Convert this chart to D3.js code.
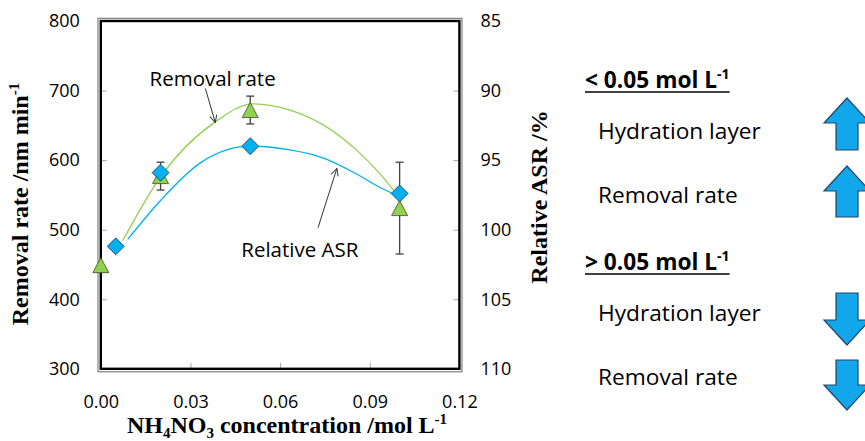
<!DOCTYPE html>
<html>
<head>
<meta charset="utf-8">
<script src="https://cdn.jsdelivr.net/npm/d3@7"></script>
<style>
  body { margin: 0; background: #fff; }
  svg { display: block; }
  .axis text { font-family: "Open Sans", sans-serif; font-size: 18px; fill: #000; }
  .axis line { stroke: #a6a6a6; stroke-width: 1; }
  .axis .domain { display: none; }
  .note { font-family: "Open Sans", sans-serif; font-size: 20.5px; fill: #000; }
  .title { font-family: "Liberation Serif", "Times New Roman", serif; font-weight: bold; font-size: 24px; fill: #000; }
  .side { font-family: "Open Sans", sans-serif; font-size: 22.7px; fill: #000; }
</style>
</head>
<body>
<svg id="chart" width="865" height="441"></svg>
<script>
//======
// Data
//======

// removal rate (triangles, left axis)
var rateConc = [0, 0.02, 0.05, 0.10];
var rateVals = [449, 577, 672, 531];
var rateErr  = [0, 20, 20, 66];

// relative ASR (diamonds, right axis)
var asrConc = [0.005, 0.02, 0.05, 0.10];
var asrVals = [101.2, 95.9, 94.0, 97.4];

// trend curves as drawn on the figure
var rateCurveX = [0.0073, 0.02, 0.0383, 0.051, 0.0633, 0.0743, 0.0857, 0.0933, 0.0987];
var rateCurveY = [484, 576, 655, 681, 672, 651, 614, 581, 553];
var asrCurveX  = [0.009, 0.02, 0.0333, 0.05, 0.0633, 0.0743, 0.0856, 0.0933, 0.0987];
var asrCurveY  = [100.7, 97.9, 95.2, 94.0, 94.27, 94.84, 96.0, 96.95, 97.5];

var xTicks     = [0, 0.03, 0.06, 0.09, 0.12];
var leftTicks  = [300, 400, 500, 600, 700, 800];
var rightTicks = [85, 90, 95, 100, 105, 110];

var sideHeads  = ["< 0.05 mol L", "> 0.05 mol L"];
var sideItems  = ["Hydration layer", "Removal rate"];
var sideTrend  = ["up", "down"];

//=======
// Chart
//=======

var svg = d3.select("#chart");
var green = "#92d050", blue = "#00b0f0";

var x = d3.scaleLinear().domain([0, 0.12]).range([100.8, 459.4]);
var yL = d3.scaleLinear().domain([300, 800]).range([368.8, 21]);
var yR = d3.scaleLinear().domain([110, 85]).range([368.8, 21]);

var defs = svg.append("defs");
defs.append("marker")
  .attr("id", "open")
  .attr("viewBox", "0 0 10 10")
  .attr("refX", 9).attr("refY", 5)
  .attr("markerWidth", 9).attr("markerHeight", 9)
  .attr("markerUnits", "userSpaceOnUse")
  .attr("orient", "auto")
  .append("path")
  .attr("d", "M1,1 L9,5 L1,9")
  .attr("fill", "none")
  .attr("stroke", "#333")
  .attr("stroke-width", 1.1);

// axes, ticks inside the frame
svg.append("g").attr("class", "axis")
  .attr("transform", "translate(" + x(0) + ",0)")
  .call(d3.axisLeft(yL).tickValues(leftTicks).tickSize(-6).tickPadding(21));

svg.append("g").attr("class", "axis")
  .attr("transform", "translate(" + x(0.12) + ",0)")
  .call(d3.axisRight(yR).tickValues(rightTicks).tickSize(-6).tickPadding(21));

svg.append("g").attr("class", "axis")
  .attr("transform", "translate(0," + yL(300) + ")")
  .call(d3.axisBottom(x).tickValues(xTicks).tickSize(-6).tickPadding(26).tickFormat(d3.format(".2f")));

// trend curves
var rateLine = d3.line().x(function(d) { return x(d[0]); }).y(function(d) { return yL(d[1]); })
  .curve(d3.curveMonotoneX);
var asrLine = d3.line().x(function(d) { return x(d[0]); }).y(function(d) { return yR(d[1]); })
  .curve(d3.curveMonotoneX);

svg.append("path")
  .attr("d", rateLine(d3.zip(rateCurveX, rateCurveY)))
  .attr("fill", "none").attr("stroke", green).attr("stroke-width", 1.3);
svg.append("path")
  .attr("d", asrLine(d3.zip(asrCurveX, asrCurveY)))
  .attr("fill", "none").attr("stroke", blue).attr("stroke-width", 1.3);

// double frame
svg.append("rect")
  .attr("x", 98).attr("y", 18.3).attr("width", 364).attr("height", 353.5)
  .attr("fill", "none").attr("stroke", "#666").attr("stroke-width", 1);
svg.append("rect")
  .attr("x", x(0)).attr("y", yL(800)).attr("width", x(0.12) - x(0)).attr("height", yL(300) - yL(800))
  .attr("fill", "none").attr("stroke", "#000").attr("stroke-width", 2.4);

// error bars
var rateData = d3.range(rateConc.length).map(function(i) {
  return { c: rateConc[i], v: rateVals[i], e: rateErr[i] };
});
var eb = svg.append("g").attr("stroke", "#404040").attr("stroke-width", 1.3);
rateData.filter(function(d) { return d.e > 0; }).forEach(function(d) {
  var cx = x(d.c);
  eb.append("line").attr("x1", cx).attr("x2", cx).attr("y1", yL(d.v - d.e)).attr("y2", yL(d.v + d.e));
  eb.append("line").attr("x1", cx - 4).attr("x2", cx + 4).attr("y1", yL(d.v - d.e)).attr("y2", yL(d.v - d.e));
  eb.append("line").attr("x1", cx - 4).attr("x2", cx + 4).attr("y1", yL(d.v + d.e)).attr("y2", yL(d.v + d.e));
});

// markers
svg.append("g").selectAll("path")
  .data(rateData)
  .enter().append("path")
  .attr("transform", function(d) { return "translate(" + x(d.c) + "," + yL(d.v) + ")"; })
  .attr("d", "M0,-7.5 L8,7.5 L-8,7.5 Z")
  .attr("fill", green).attr("stroke", "#3b4a2a").attr("stroke-width", 0.8);

svg.append("g").selectAll("path")
  .data(d3.zip(asrConc, asrVals))
  .enter().append("path")
  .attr("transform", function(d) { return "translate(" + x(d[0]) + "," + yR(d[1]) + ")"; })
  .attr("d", "M0,-8.5 L8.5,0 L0,8.5 L-8.5,0 Z")
  .attr("fill", blue).attr("stroke", "#1e3a52").attr("stroke-width", 0.8);

// call-outs
svg.append("text").attr("class", "note")
  .attr("x", x(0.0163)).attr("y", yL(706)).text("Removal rate");
svg.append("line")
  .attr("x1", x(0.035)).attr("y1", yL(703)).attr("x2", x(0.0383)).attr("y2", yL(654))
  .attr("stroke", "#333").attr("stroke-width", 1).attr("marker-end", "url(#open)");

svg.append("text").attr("class", "note")
  .attr("x", x(0.047)).attr("y", yR(101.95)).text("Relative ASR");
svg.append("line")
  .attr("x1", x(0.0727)).attr("y1", yR(99.85)).attr("x2", x(0.079)).attr("y2", yR(95.6))
  .attr("stroke", "#333").attr("stroke-width", 1).attr("marker-end", "url(#open)");

// axis titles
var lt = svg.append("text").attr("class", "title")
  .attr("transform", "translate(28,204) rotate(-90)")
  .attr("text-anchor", "middle");
lt.append("tspan").text("Removal rate /nm min");
lt.append("tspan").attr("dy", -9).attr("font-size", 15).text("-1");

var rt = svg.append("text").attr("class", "title")
  .attr("transform", "translate(547,197) rotate(-90)")
  .attr("text-anchor", "middle")
  .text("Relative ASR /%");

var xt = svg.append("text").attr("class", "title")
  .attr("x", 287).attr("y", 433)
  .attr("text-anchor", "middle");
xt.append("tspan").text("NH");
xt.append("tspan").attr("dy", 5).attr("font-size", 15).text("4");
xt.append("tspan").attr("dy", -5).text("NO");
xt.append("tspan").attr("dy", 5).attr("font-size", 15).text("3");
xt.append("tspan").attr("dy", -5).text(" concentration /mol L");
xt.append("tspan").attr("dy", -9).attr("font-size", 15).text("-1");

// side panel
var headY = [88, 270];
var itemY = [[139, 203], [321, 385]];
var arrowY = [[[98, 150], [166, 217]], [[293, 345], [360, 410]]];

function blockArrow(cx, top, bottom, dir) {
  var hw = 23, sw = 11, hl = 25;
  var pts;
  if (dir === "up") {
    pts = [[cx, top], [cx + hw, top + hl], [cx + sw, top + hl], [cx + sw, bottom],
           [cx - sw, bottom], [cx - sw, top + hl], [cx - hw, top + hl]];
  } else {
    pts = [[cx, bottom], [cx + hw, bottom - hl], [cx + sw, bottom - hl], [cx + sw, top],
           [cx - sw, top], [cx - sw, bottom - hl], [cx - hw, bottom - hl]];
  }
  return "M" + pts.join("L") + "Z";
}

sideHeads.forEach(function(h, i) {
  var t = svg.append("text").attr("class", "side")
    .attr("x", 585).attr("y", headY[i]).attr("font-weight", "bold");
  t.append("tspan").text(h);
  t.append("tspan").attr("dy", -9).attr("font-size", 14).text("-1");
  var w = t.node().getBBox().width;
  svg.append("line")
    .attr("x1", 585).attr("x2", 585 + w)
    .attr("y1", headY[i] + 4).attr("y2", headY[i] + 4)
    .attr("stroke", "#000").attr("stroke-width", 1.6);

  sideItems.forEach(function(s, j) {
    svg.append("text").attr("class", "side")
      .attr("x", 598).attr("y", itemY[i][j]).text(s);
    svg.append("path")
      .attr("d", blockArrow(847, arrowY[i][j][0], arrowY[i][j][1], sideTrend[i]))
      .attr("fill", "#12a6ea").attr("stroke", "#23466b").attr("stroke-width", 1.2);
  });
});
</script>
</body>
</html>
